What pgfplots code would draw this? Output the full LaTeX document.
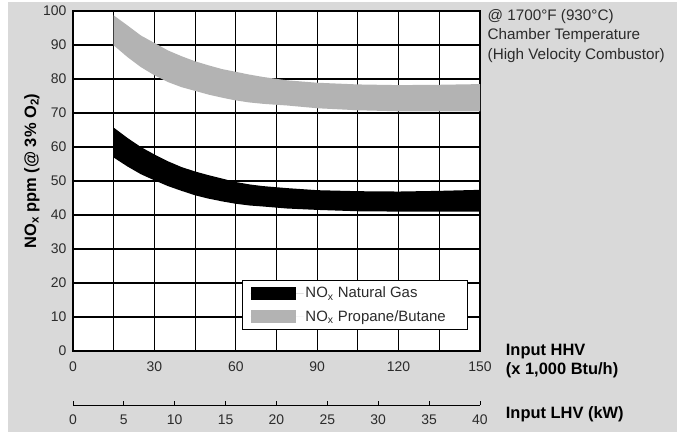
\documentclass[border=0pt]{standalone}
\usepackage{fontspec}
\setmainfont{Liberation Sans}
\usepackage{pgfplots}
\pgfplotsset{compat=1.18}
\definecolor{bgc}{HTML}{D9D9D9}
\definecolor{band}{HTML}{B3B3B3}
\definecolor{txt}{HTML}{2B2B2B}
\newcommand{\lgfont}{\fontsize{15}{17}\selectfont}
\begin{document}
\begin{tikzpicture}
\fill[white] (0bp,0bp) rectangle (677bp,432bp);
\fill[bgc] (8bp,0bp) rectangle (677bp,430bp);
\begin{axis}[
 at={(73bp,81bp)}, anchor=south west, scale only axis, width=407bp, height=340bp,
 xmin=0,xmax=150,ymin=0,ymax=100,
 xtick={0,30,...,150}, minor xtick={15,45,...,135}, ytick={0,10,...,100},
 grid=both, major grid style={black, line width=1.1bp}, minor grid style={black, line width=1.1bp},
 axis line style={black, line width=2.2bp},
 major tick length=0pt, minor tick length=0pt,
 axis background/.style={fill=white},
 /pgf/number format/assume math mode=true,
 tick label style={font=\fontsize{14}{16}\selectfont, text=txt},
 xticklabel style={yshift=-7bp},
 yticklabel style={xshift=-3bp},
 legend style={at={(0.415,0.209)}, anchor=north west, draw=black, line width=1.2bp, fill=white,
   inner xsep=8bp, inner ysep=4.5bp, font=\lgfont, row sep=7bp,
   cells={anchor=west}, text=txt},
 legend cell align=left,
]
\addplot[fill=black, draw=none, legend image code/.code={\path (0bp,0bp) -- (53bp,0bp);\fill[black] (0bp,-6.5bp) rectangle (45bp,6.5bp);}] coordinates {
(15,65.7) (20,62.7) (25,60.0) (30,57.8) (35,55.8) (40,54.1) (45,52.8) (50,51.7) (55,50.7) (60,49.7) (65,49.0) (70,48.5) (79,47.9) (90,47.3) (105,47.0) (120,46.9) (135,47.1) (150,47.4)
(150,41.0) (135,41.0) (120,41.0) (105,41.1) (90,41.5) (79,41.9) (70,42.5) (65,42.8) (60,43.3) (55,44.0) (50,44.8) (45,45.8) (40,47.1) (35,48.5) (30,50.2) (25,52.0) (20,54.3) (15,56.9)
} -- cycle;
\addlegendentry{\lgfont NO\textsubscript{x} Natural Gas}
\addplot[fill=band, draw=none, legend image code/.code={\path (0bp,0bp) -- (53bp,0bp);\fill[band] (0bp,-6.5bp) rectangle (45bp,6.5bp);}] coordinates {
(15,98.7) (20,95.8) (25,92.8) (30,90.6) (35,88.4) (40,86.7) (45,85.2) (50,84.0) (55,82.9) (60,82.1) (65,81.3) (70,80.6) (79,79.6) (90,78.9) (105,78.4) (120,78.2) (135,78.3) (150,78.5)
(150,70.5) (135,70.5) (120,70.5) (105,70.8) (90,71.4) (79,72.2) (70,72.7) (65,73.1) (60,73.7) (55,74.5) (50,75.4) (45,76.5) (40,77.6) (35,79.1) (30,81.1) (25,83.5) (20,86.5) (15,89.9)
} -- cycle;
\addlegendentry{\lgfont NO\textsubscript{x} Propane/Butane\hphantom{\hspace{12bp}}\rule{0pt}{0pt}}
\end{axis}
\begin{axis}[
 at={(73bp,27bp)}, anchor=south west, scale only axis, width=407bp, height=10bp,
 xmin=0,xmax=40, ymin=0,ymax=1, hide y axis, axis x line=bottom,
 axis line style={-, black, line width=1bp},
 xtick={0,5,...,40}, tick align=inside, major tick length=4bp, tick style={black, line width=1bp},
 /pgf/number format/assume math mode=true,
 tick label style={font=\fontsize{14}{16}\selectfont, text=txt},
 xticklabel style={yshift=-6bp},
]
\addplot[draw=none, forget plot] coordinates {(0,0) (40,1)};
\end{axis}
\node[anchor=base west, font=\fontsize{15.3}{18}\selectfont, text=txt, inner sep=0pt] at (487.5bp,411bp) {@ 1700°F (930°C)};
\node[anchor=base west, font=\fontsize{15.3}{18}\selectfont, text=txt, inner sep=0pt] at (487.5bp,392bp) {Chamber Temperature};
\node[anchor=base west, font=\fontsize{15.3}{18}\selectfont, text=txt, inner sep=0pt] at (487.5bp,372.7bp) {(High Velocity Combustor)};
\node[anchor=base west, font=\bfseries\fontsize{16.5}{19}\selectfont, inner sep=0pt] at (505.7bp,76bp) {Input HHV};
\node[anchor=base west, font=\bfseries\fontsize{16.5}{19}\selectfont, inner sep=0pt] at (505.7bp,57bp) {(x 1,000 Btu/h)};
\node[anchor=base west, font=\bfseries\fontsize{16.5}{19}\selectfont, inner sep=0pt] at (505.7bp,14bp) {Input LHV (kW)};
\node[rotate=90, anchor=base, font=\bfseries\fontsize{16.5}{19}\selectfont, inner sep=0pt] at (36bp,261bp) {NO\textsubscript{x} ppm (@ 3\% O\textsubscript{2})};
\end{tikzpicture}
\end{document}
